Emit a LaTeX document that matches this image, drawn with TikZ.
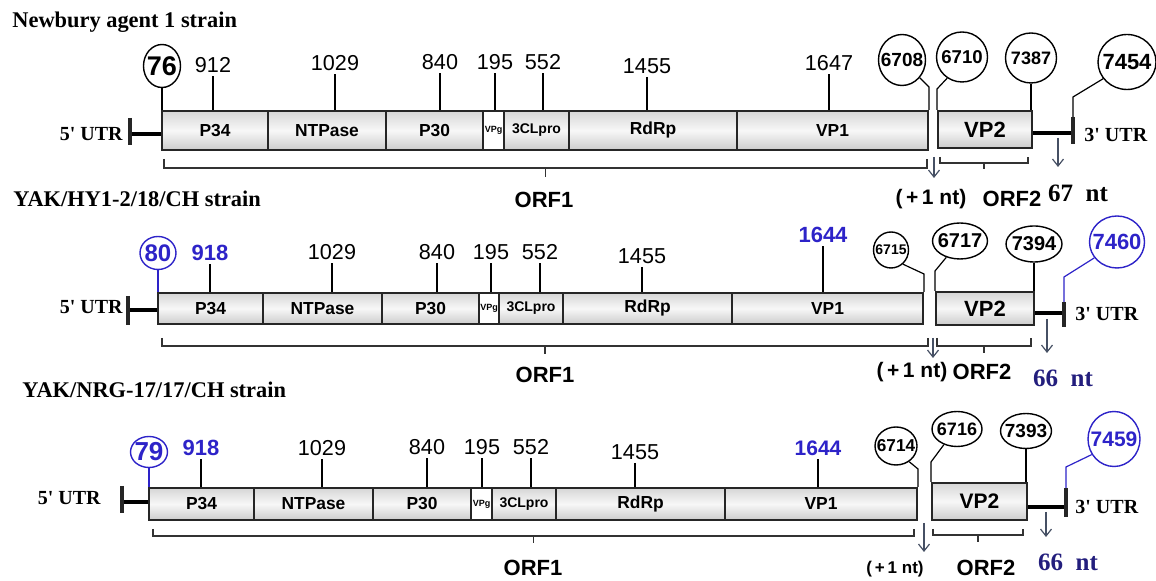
\documentclass[tikz,border=0pt]{standalone}
\usepackage{fontspec}
\setmainfont{Liberation Serif}[Ligatures=TeXOff]
\setsansfont{Liberation Sans}
\usetikzlibrary{arrows.meta,positioning,calc,shapes.geometric}

\definecolor{mblue}{RGB}{45,35,200}
\definecolor{ntblue}{RGB}{35,30,125}
\definecolor{arrowgray}{RGB}{70,80,100}
\newcommand\fsz[1]{\fontsize{#1}{#1}\selectfont}
\newcommand\sitelab[2]{\makebox[0pt]{\fsz{#1}#2}}

\tikzset{
  seg/.style={draw=black!85, line width=1pt, inner sep=0pt,
    top color=gray!32, bottom color=gray!40, middle color=gray!6,
    font=\sffamily\bfseries\fsz{8.7}},
  vpg/.style={draw=black!85, line width=1pt, inner sep=0pt, fill=white,
    font=\sffamily\bfseries\fsz{4.5}},
  num/.style={inner sep=1.5pt, font=\sffamily\fsz{10.8}},
  bnum/.style={num, text=mblue, font=\sffamily\bfseries\fsz{11}},
  site/.style={draw, ellipse, line width=0.7pt, inner sep=0pt, font=\sffamily\bfseries},
  bsite/.style={site, draw=mblue, text=mblue},
  numtick/.style={line width=0.6pt},
  btick/.style={numtick, draw=mblue},
  utr/.style={line width=2pt},
  utrbar/.style={line width=2.2pt, draw=black!85},
  utrlab/.style={font=\bfseries\fsz{10}, inner sep=0pt},
  strain/.style={font=\bfseries\fsz{11.2}, inner sep=0pt, anchor=base west},
  orfbrace/.style={line width=0.6pt, draw=black!80},
  orf/.style={font=\sffamily\bfseries\fsz{11}, inner sep=0pt},
  fslab/.style={font=\sffamily\bfseries\fsz{10.5}, inner sep=0pt},
  ntlab/.style={font=\bfseries\fsz{12.5}, inner sep=0pt},
  ntarrow/.style={draw=arrowgray, line width=0.6pt, -{Straight Barb[length=3.5pt,width=5.5pt]}},
}

\begin{document}
\begin{tikzpicture}[x=0.5pt,y=-0.5pt]
  \useasboundingbox (0,0) rectangle (1156,581);

  % ---------- Newbury agent 1 ----------
  \node[strain] (t1) at (12,28) {Newbury agent 1 strain};
  \foreach \n/\a/\b/\lab in {p34/162/268/P34, ntpase/268/386/NTPase, p30/386/483/P30,
      clpro/504/569/{\fsz{7}3CLpro}, rdrp/569/737/RdRp, vp1/737/928/VP1}{
    \node[seg, minimum width={(\b-\a)*0.5pt}, minimum height=19.5pt] (r1\n) at ({(\a+\b)/2},130.5) {\lab};
  }
  \node[vpg, minimum width=10.5pt, minimum height=19.5pt] (r1vpg) at (493.5,130.5) {VPg};
  \node[seg, minimum width=47pt, minimum height=18.5pt] (r1vp2) at (985,129.5) {\fsz{11}VP2};

  \foreach \v/\px/\py/\s in {912/213/65/p34, 1029/335/63/ntpase, 840/440/62/p30, 195/495/62/vpg,
      552/543/62/clpro, 1455/647/66/rdrp, 1647/829/63/vp1}{
    \node[num] (r1n\v) at (\px,\py) {\v};
    \draw[numtick] (r1n\v.south) -- (r1n\v.south |- r1\s.north);
  }

  \node[site, minimum width=18.5pt, minimum height=21.5pt] (r1c76) at (162,66) {\sitelab{13.5}{76}};
  \node[site, minimum width=23.5pt, minimum height=25.5pt] (r1c6708) at (902,60) {\sitelab{9.5}{6708}};
  \node[site, minimum width=25.5pt, minimum height=25pt] (r1c6710) at (962,57) {\sitelab{9.3}{6710}};
  \node[site, minimum width=25.5pt, minimum height=25pt] (r1c7387) at (1031,58) {\sitelab{9}{7387}};
  \node[site, minimum width=29pt, minimum height=27.5pt] (r1c7454) at (1127,62) {\sitelab{11}{7454}};
  \draw[numtick] (r1c76.south) -- (r1c76.south |- r1p34.north);
  \draw[numtick] (r1c6708.-45) -- ($(r1vp1.north east)+(0,-23)$) -- (r1vp1.north east);
  \draw[numtick] (r1c6710.-125) -- ($(r1vp2.north west)+(0,-21)$) -- (r1vp2.north west);
  \draw[numtick] (r1c7387.south) -- (r1c7387.south |- r1vp2.north);

  \coordinate (r1u5) at (130,134);
  \draw[utr] (r1u5) -- (r1u5 -| r1p34.west);
  \draw[utrbar] ($(r1u5)+(0,-16)$) -- ($(r1u5)+(0,11)$);
  \node[utrlab, anchor=east] (r1l5) at (123,134) {5' UTR};
  \coordinate (r1u3) at (1073,133);
  \draw[utr] (r1vp2.east |- r1u3) -- (r1u3);
  \draw[utrbar] ($(r1u3)+(0,-16)$) -- ($(r1u3)+(0,11)$);
  \draw[numtick] (r1c7454.-145) -- ($(r1u3)+(0,-36)$) -- ($(r1u3)+(0,-16)$);
  \node[utrlab, anchor=west] (r1l3) at (1084,135) {3' UTR};

  \draw[orfbrace] (164,159) -- (164,168) -- (927,168) -- (927,159) (545.5,168) -- (545.5,177);
  \draw[orfbrace] (940,157) -- (940,163) -- (1028,163) -- (1028,157) (984,163) -- (984,169);
  \node[orf] (r1orf1) at (544,200) {ORF1};
  \node[orf] (r1orf2) at (1012,199) {ORF2};
  \node[fslab] (r1fs) at (931,199) {(\,+\,1 nt)};
  \node[ntlab] (r1nt) at (1078,193) {67\ \ nt};
  \coordinate (r1fa) at (934,157);
  \coordinate (r1fb) at (934,178);
  \draw[ntarrow] (r1fa) -- (r1fb);
  \coordinate (r1na) at (1058,138);
  \coordinate (r1nb) at (1058,167);
  \draw[ntarrow] (r1na) -- (r1nb);

  % ---------- YAK/HY1-2/18/CH ----------
  \node[strain] (t2) at (13,207) {YAK/HY1-2/18/CH strain};
  \foreach \n/\a/\b/\lab in {p34/158/263/P34, ntpase/263/382/NTPase, p30/382/479/P30,
      clpro/499/563/{\fsz{7}3CLpro}, rdrp/563/732/RdRp, vp1/732/923/VP1}{
    \node[seg, minimum width={(\b-\a)*0.5pt}, minimum height=15.5pt] (r2\n) at ({(\a+\b)/2},308.5) {\lab};
  }
  \node[vpg, minimum width=10pt, minimum height=15.5pt] (r2vpg) at (489,308.5) {VPg};
  \node[seg, minimum width=49pt, minimum height=16.5pt] (r2vp2) at (985,308.5) {\fsz{11}VP2};

  \foreach \v/\px/\py/\s in {1029/332/252/ntpase, 840/437/252/p30, 195/491/252/vpg,
      552/540/252/clpro, 1455/642/256/rdrp}{
    \node[num] (r2n\v) at (\px,\py) {\v};
    \draw[numtick] (r2n\v.south) -- (r2n\v.south |- r2\s.north);
  }
  \node[bnum] (r2n918) at (210,253) {918};
  \draw[numtick] (r2n918.south) -- (r2n918.south |- r2p34.north);
  \node[bnum] (r2n1644) at (823,235) {1644};
  \draw[numtick] (r2n1644.south) -- (r2n1644.south |- r2vp1.north);

  \node[bsite, minimum width=18pt, minimum height=16.5pt] (r2c80) at (158,253) {\sitelab{12}{80}};
  \node[site, minimum width=17.5pt, minimum height=18pt] (r2c6715) at (891,250) {\sitelab{7}{6715}};
  \node[site, minimum width=27.5pt, minimum height=18pt] (r2c6717) at (960,241) {\sitelab{10}{6717}};
  \node[site, minimum width=28pt, minimum height=18pt] (r2c7394) at (1034,244) {\sitelab{10}{7394}};
  \node[bsite, minimum width=27.5pt, minimum height=26pt] (r2c7460) at (1117,242) {\sitelab{11}{7460}};
  \draw[btick] (r2c80.south) -- (r2c80.south |- r2p34.north);
  \draw[numtick] (r2c6715.-50) -- ($(r2vp1.north east)+(0,-18)$) -- (r2vp1.north east);
  \draw[numtick] (r2c6717.-130) -- ($(r2vp2.north west)+(0,-20)$) -- (r2vp2.north west);
  \draw[numtick] (r2c7394.south) -- (r2c7394.south |- r2vp2.north);

  \coordinate (r2u5) at (128,310);
  \draw[utr] (r2u5) -- (r2u5 -| r2p34.west);
  \draw[utrbar] ($(r2u5)+(0,-14)$) -- ($(r2u5)+(0,15)$);
  \node[utrlab, anchor=east] (r2l5) at (123,307) {5' UTR};
  \coordinate (r2u3) at (1064,313);
  \draw[utr] (r2vp2.east |- r2u3) -- (r2u3);
  \draw[utrbar] ($(r2u3)+(0,-11)$) -- ($(r2u3)+(0,14)$);
  \draw[btick] (r2c7460.-145) -- ($(r2u3)+(0,-36)$) -- ($(r2u3)+(0,-11)$);
  \node[utrlab, anchor=west] (r2l3) at (1075,314) {3' UTR};

  \draw[orfbrace] (162,338) -- (162,346) -- (928,346) -- (928,338) (545,346) -- (545,354);
  \draw[orfbrace] (937,338) -- (937,346) -- (1031,346) -- (1031,338) (984,346) -- (984,353);
  \node[orf] (r2orf1) at (545,375) {ORF1};
  \node[orf] (r2orf2) at (982,372) {ORF2};
  \node[fslab] (r2fs) at (912,372) {(\,+\,1 nt)};
  \node[ntlab, text=ntblue] (r2nt) at (1063,378) {66\ \ nt};
  \coordinate (r2fa) at (933,338);
  \coordinate (r2fb) at (933,358);
  \draw[ntarrow] (r2fa) -- (r2fb);
  \coordinate (r2na) at (1047,319);
  \coordinate (r2nb) at (1047,353);
  \draw[ntarrow] (r2na) -- (r2nb);

  % ---------- YAK/NRG-17/17/CH ----------
  \node[strain] (t3) at (22,398) {YAK/NRG-17/17/CH strain};
  \foreach \n/\a/\b/\lab in {p34/149/254/P34, ntpase/254/373/NTPase, p30/373/471/P30,
      clpro/492/556/{\fsz{7}3CLpro}, rdrp/556/725/RdRp, vp1/725/917/VP1}{
    \node[seg, minimum width={(\b-\a)*0.5pt}, minimum height=16pt] (r3\n) at ({(\a+\b)/2},504) {\lab};
  }
  \node[vpg, minimum width=10.5pt, minimum height=16pt] (r3vpg) at (481.5,504) {VPg};
  \node[seg, minimum width=47.5pt, minimum height=18.5pt] (r3vp2) at (979.5,501.5) {\fsz{10.5}VP2};

  \foreach \v/\px/\py/\s in {1029/322/448/ntpase, 840/427/447/p30, 195/482/447/vpg,
      552/531/447/clpro, 1455/635/452/rdrp}{
    \node[num] (r3n\v) at (\px,\py) {\v};
    \draw[numtick] (r3n\v.south) -- (r3n\v.south |- r3\s.north);
  }
  \node[bnum] (r3n918) at (201,448) {918};
  \draw[numtick] (r3n918.south) -- (r3n918.south |- r3p34.north);
  \node[bnum, font=\sffamily\bfseries\fsz{10.5}] (r3n1644) at (818,448) {1644};
  \draw[numtick] (r3n1644.south) -- (r3n1644.south |- r3vp1.north);

  \node[bsite, minimum width=18.5pt, minimum height=15.5pt] (r3c79) at (149,452) {\sitelab{13}{79}};
  \node[site, minimum width=21pt, minimum height=19pt] (r3c6714) at (896,446) {\sitelab{8.6}{6714}};
  \node[site, minimum width=25pt, minimum height=17.5pt] (r3c6716) at (957,429) {\sitelab{9}{6716}};
  \node[site, minimum width=25.5pt, minimum height=17.5pt] (r3c7393) at (1026,431) {\sitelab{9.5}{7393}};
  \node[bsite, minimum width=26pt, minimum height=27.5pt] (r3c7459) at (1114,439) {\sitelab{10.5}{7459}};
  \draw[btick] (r3c79.south) -- (r3c79.south |- r3p34.north);
  \draw[numtick] (r3c6714.-50) -- ($(r3vp1.north east)+(0,-18)$) -- (r3vp1.north east);
  \draw[numtick] (r3c6716.-130) -- ($(r3vp2.north west)+(0,-20)$) -- (r3vp2.north west);
  \draw[numtick] (r3c7393.south) -- (r3c7393.south |- r3vp2.north);

  \coordinate (r3u5) at (122,502);
  \draw[utr] (r3u5) -- (r3u5 -| r3p34.west);
  \draw[utrbar] ($(r3u5)+(0,-16)$) -- ($(r3u5)+(0,11)$);
  \node[utrlab, anchor=east] (r3l5) at (101,498) {5' UTR};
  \coordinate (r3u3) at (1066,507);
  \draw[utr] (r3vp2.east |- r3u3) -- (r3u3);
  \draw[utrbar] ($(r3u3)+(0,-19)$) -- ($(r3u3)+(0,10)$);
  \draw[btick] (r3c7459.-145) -- ($(r3u3)+(0,-40)$) -- ($(r3u3)+(0,-19)$);
  \node[utrlab, anchor=west] (r3l3) at (1075,507) {3' UTR};

  \draw[orfbrace] (153,529) -- (153,536) -- (914,536) -- (914,529) (533.5,536) -- (533.5,543);
  \draw[orfbrace] (933,529) -- (933,535) -- (1023,535) -- (1023,529) (978,535) -- (978,542);
  \node[orf] (r3orf1) at (533,568) {ORF1};
  \node[orf] (r3orf2) at (986,568) {ORF2};
  \node[fslab, font=\sffamily\bfseries\fsz{8.5}] (r3fs) at (895,569) {(\,+\,1 nt)};
  \node[ntlab, text=ntblue] (r3nt) at (1068,562) {66\ \ nt};
  \coordinate (r3fa) at (924,523);
  \coordinate (r3fb) at (924,552);
  \draw[ntarrow] (r3fa) -- (r3fb);
  \coordinate (r3na) at (1046,512);
  \coordinate (r3nb) at (1046,537);
  \draw[ntarrow] (r3na) -- (r3nb);
\end{tikzpicture}
\end{document}
